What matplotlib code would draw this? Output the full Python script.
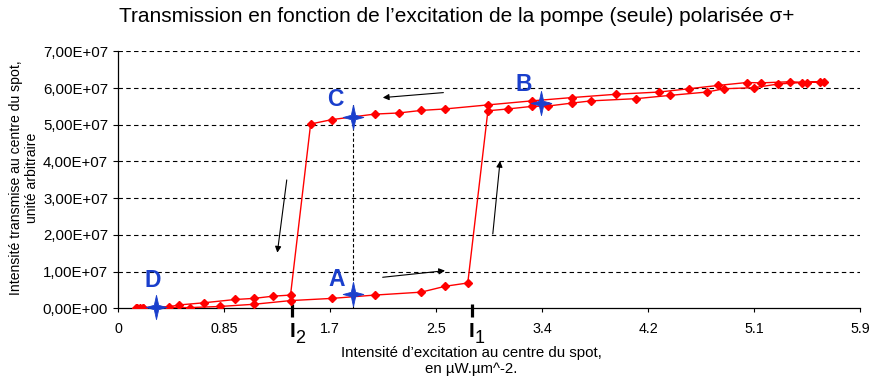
import numpy as np
import matplotlib
matplotlib.use("Agg")
import matplotlib.pyplot as plt
from matplotlib.path import Path

plt.rcParams['font.family'] = ['Liberation Sans', 'DejaVu Sans']

# ---- data (intensity in µW.µm^-2, transmission in units of 1e7) ----
x_up = [0.14, 0.17, 0.20, 0.57, 0.81, 1.08, 1.37, 1.70, 2.04, 2.41, 2.60, 2.78,
        2.94, 3.10, 3.29, 3.42, 3.61, 3.76, 4.12, 4.39, 4.68, 4.82, 5.06, 5.25,
        5.44, 5.58, 5.61]
y_up = [0.0, 0.0, 0.02, 0.02, 0.05, 0.11, 0.21, 0.27, 0.36, 0.44, 0.60, 0.69,
        5.38, 5.43, 5.50, 5.51, 5.59, 5.65, 5.71, 5.80, 5.89, 5.98, 6.01, 6.11,
        6.15, 6.17, 6.17]
x_down = [5.48, 5.34, 5.11, 5.00, 4.77, 4.54, 4.30, 3.96, 3.61, 3.29, 2.94, 2.60,
          2.41, 2.23, 2.04, 1.70, 1.53, 1.37, 1.23, 1.08, 0.93, 0.68, 0.48, 0.40,
          0.20, 0.15]
y_down = [6.15, 6.17, 6.14, 6.15, 6.07, 5.98, 5.89, 5.83, 5.74, 5.65, 5.54, 5.43,
          5.39, 5.32, 5.29, 5.14, 5.02, 0.36, 0.33, 0.27, 0.24, 0.15, 0.09, 0.04,
          0.02, 0.0]

point_names = ['A', 'B', 'C', 'D']
point_x = [1.87, 3.363, 1.87, 0.30]
point_y = [0.38, 5.60, 5.22, 0.03]
label_x = [1.74, 3.222, 1.724, 0.274]
label_y = [0.79, 6.084, 5.676, 0.752]

xtick_labels = ["0", "0.85", "1.7", "2.5", "3.4", "4.2", "5.1", "5.9"]
ytick_values = [0, 1, 2, 3, 4, 5, 6, 7]
ytick_labels = ["0,00E+00", "1,00E+07", "2,00E+07", "3,00E+07", "4,00E+07",
                "5,00E+07", "6,00E+07", "7,00E+07"]
threshold_x = [2.811, 1.384]
threshold_names = ["1", "2"]

# arrows: (x_start, y_start, x_end, y_end)
arrows = [(2.586, 5.875, 2.104, 5.739),
          (1.340, 3.496, 1.265, 1.515),
          (2.103, 0.845, 2.599, 1.025),
          (2.979, 2.025, 3.037, 4.014)]

SCALE = 1e7
W, H = 869, 383
fig = plt.figure(figsize=(W / 100, H / 100), dpi=100)
L, R, T, B = 118.3, 860.0, 51.3, 308.3
ax = fig.add_axes([L / W, 1 - B / H, (R - L) / W, (B - T) / H])

xs = np.array(x_up + x_down)
ys = np.array(y_up + y_down) * SCALE
ax.plot(xs, ys, color='#FF0000', lw=1.0, marker='D', ms=3.8,
        mec='#FF0000', mfc='#FF0000', zorder=3)

ax.set_xlim(0, 5.9)
ax.set_ylim(0, 7 * SCALE)
ax.set_xticks(np.linspace(0, 5.9, 8))
ax.set_xticklabels(xtick_labels, fontsize=10.3)
ax.set_yticks(np.array(ytick_values) * SCALE)
ax.set_yticklabels(ytick_labels, fontsize=10.8)
ax.tick_params(axis='x', direction='out', length=3, width=0.8, pad=7)
ax.tick_params(axis='y', direction='out', length=3.3, width=0.8, pad=4)

for s in ['top', 'right']:
    ax.spines[s].set_visible(False)
for s in ['left', 'bottom']:
    ax.spines[s].set_linewidth(0.9)

for v in ytick_values[1:]:
    ax.axhline(v * SCALE, color='black', lw=0.8, ls=(0, (4, 3)), zorder=1)

# vertical dashed line through A and C
ax.plot([point_x[0], point_x[0]], [0, 5.59 * SCALE], color='black', lw=0.8,
        ls=(0, (3, 2)), zorder=2)

# star markers
star = Path([(0, 1), (0.18, 0.18), (0.85, 0), (0.18, -0.18), (0, -1),
             (-0.18, -0.18), (-0.85, 0), (-0.18, 0.18), (0, 1)],
            [Path.MOVETO] + [Path.LINETO] * 7 + [Path.CLOSEPOLY])
blue = '#1A3FCC'
ax.plot(point_x, np.array(point_y) * SCALE, ls='none', marker=star, ms=17.5,
        mfc=blue, mec=blue, mew=0.6, zorder=5, clip_on=False)
for n, lx, ly in zip(point_names, label_x, label_y):
    ax.text(lx, ly * SCALE, n, color=blue, fontsize=16.5, fontweight='bold',
            ha='center', va='center', zorder=6)

for (x0, y0, x1, y1) in arrows:
    ax.annotate('', xy=(x1, y1 * SCALE), xytext=(x0, y0 * SCALE),
                arrowprops=dict(arrowstyle='-|>', color='black', lw=0.8,
                                mutation_scale=9, shrinkA=0, shrinkB=0))

# threshold marks I1, I2
trans = ax.get_xaxis_transform()
ah = B - T
for tx, tn in zip(threshold_x, threshold_names):
    ax.plot([tx, tx], [4.3 / ah, -8.7 / ah], color='black', lw=2.3,
            transform=trans, clip_on=False, solid_capstyle='butt')
    ax.text(tx, -(336.7 - B) / ah, "I", transform=trans, fontsize=15,
            fontweight='bold', ha='center', va='baseline')
    ax.annotate(tn, xy=(tx, -(343 - B) / ah), xycoords=trans,
                xytext=(5.5, 0), textcoords='offset points', fontsize=13,
                ha='center', va='baseline')

fig.text(457 / W, 1 - 17 / H,
         "Transmission en fonction de l\u2019excitation de la pompe (seule) polaris\u00e9e \u03c3+",
         ha='center', va='center', fontsize=15)
fig.text(471 / W, 1 - 361 / H,
         "Intensit\u00e9 d\u2019excitation au centre du spot,\nen \u00b5W.\u00b5m^-2.",
         ha='center', va='center', fontsize=10.8, multialignment='center',
         linespacing=1.1)
fig.text(24 / W, 1 - 178 / H,
         "Intensit\u00e9 transmise au centre du spot,\nunit\u00e9 arbitraire",
         ha='center', va='center', rotation=90, fontsize=10.1,
         multialignment='center', linespacing=1.25)

fig.savefig('out.png', dpi=100)
